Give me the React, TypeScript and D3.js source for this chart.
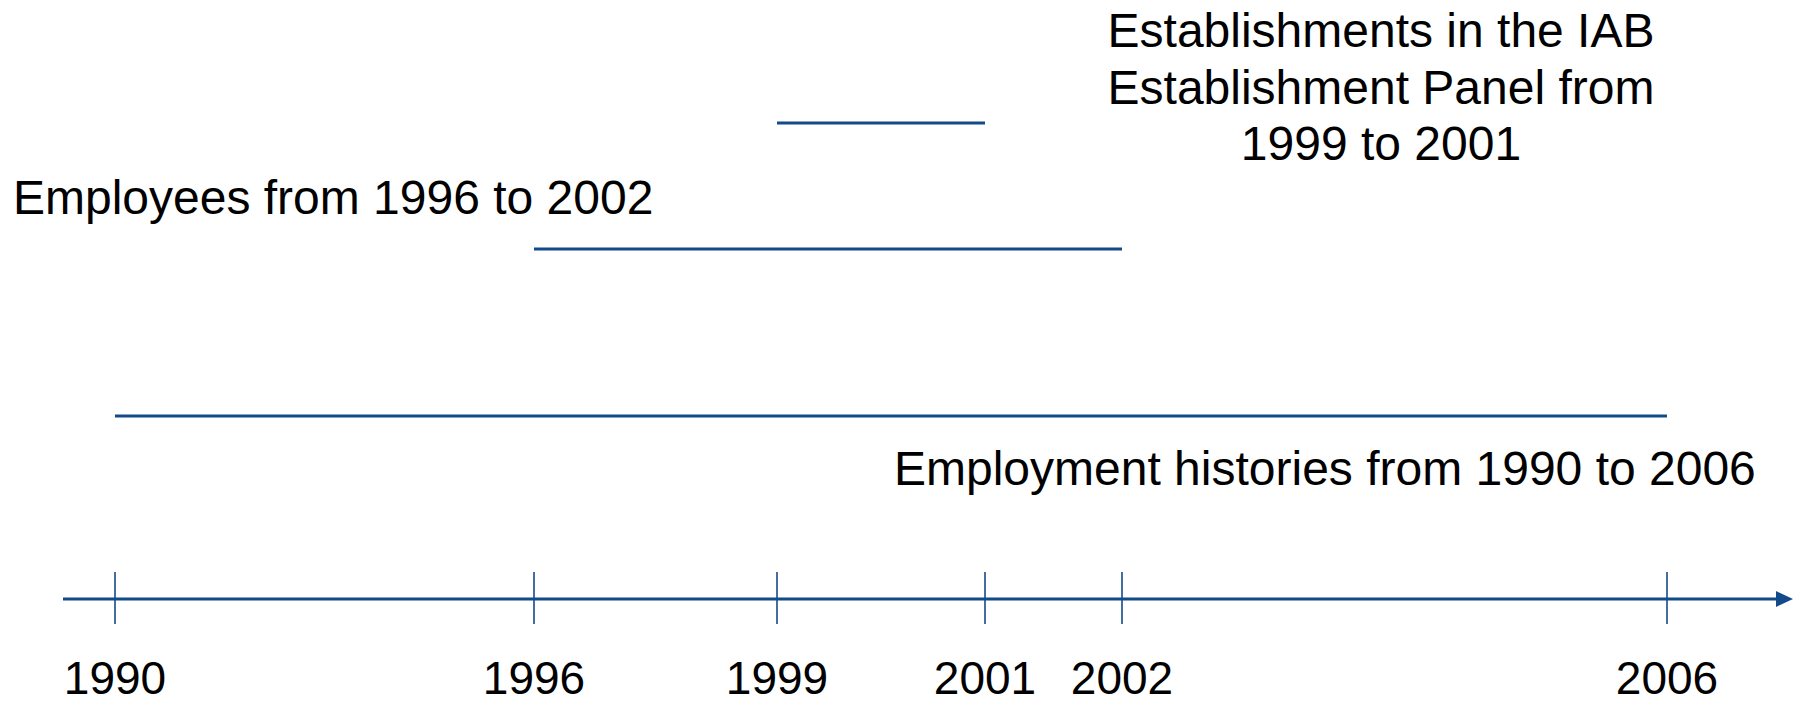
import React from 'react';
import { scaleLinear, line } from 'd3';

// ticks on the time axis (spacing is not uniform in the original figure)
const years = [1990, 1996, 1999, 2001, 2002, 2006];

// the three observation periods
const periodNames = ['establishments', 'employees', 'histories'];
const periodStart = [1999, 1996, 1990];
const periodEnd = [2001, 2002, 2006];

const establishmentsText = ['Establishments in the IAB', 'Establishment Panel from', '1999 to 2001'];
const employeesText = 'Employees from 1996 to 2002';
const historiesText = 'Employment histories from 1990 to 2006';

const W = 1800;
const H = 703;
const blue = '#134a8a';
const font = '"Liberation Sans", Arial, Helvetica, sans-serif';

const App = () => {
  // piecewise scale, the picture stretches later years
  const x = scaleLinear().domain(years).range([115, 534, 777, 985, 1122, 1667]);

  const axisY = 599;
  const periodY: Record<string, number> = { establishments: 123, employees: 249, histories: 416 };

  const axisLine = line()([[63, axisY], [1778, axisY]]);

  return (
    <svg width={W} height={H} style={{ position: 'absolute', left: 0, top: 0 }} fontFamily={font}>
      <rect width={W} height={H} fill="#fff" />

      {/* period bars */}
      {periodNames.map((name, i) => (
        <line
          key={name}
          x1={x(periodStart[i])}
          x2={x(periodEnd[i])}
          y1={periodY[name]}
          y2={periodY[name]}
          stroke={blue}
          strokeWidth={3}
        />
      ))}

      {/* labels */}
      <text x={1381} textAnchor="middle" fontSize={48} fill="#000">
        {establishmentsText.map((t, i) => (
          <tspan key={i} x={1381} y={47 + i * 56.5}>{t}</tspan>
        ))}
      </text>
      <text x={13} y={214} fontSize={48} fill="#000">{employeesText}</text>
      <text x={894} y={485} fontSize={48} fill="#000">{historiesText}</text>

      {/* time axis */}
      <path d={axisLine ?? ''} stroke={blue} strokeWidth={3} fill="none" />
      <path d={`M1776,${axisY - 8}L1793,${axisY}L1776,${axisY + 8}Z`} fill={blue} />
      {years.map((yr) => (
        <g key={yr} transform={`translate(${x(yr)},0)`}>
          <line y1={572} y2={624} stroke={blue} strokeWidth={1.6} />
          <text y={694} textAnchor="middle" fontSize={46} fill="#000">{yr}</text>
        </g>
      ))}
    </svg>
  );
};

export default App;
